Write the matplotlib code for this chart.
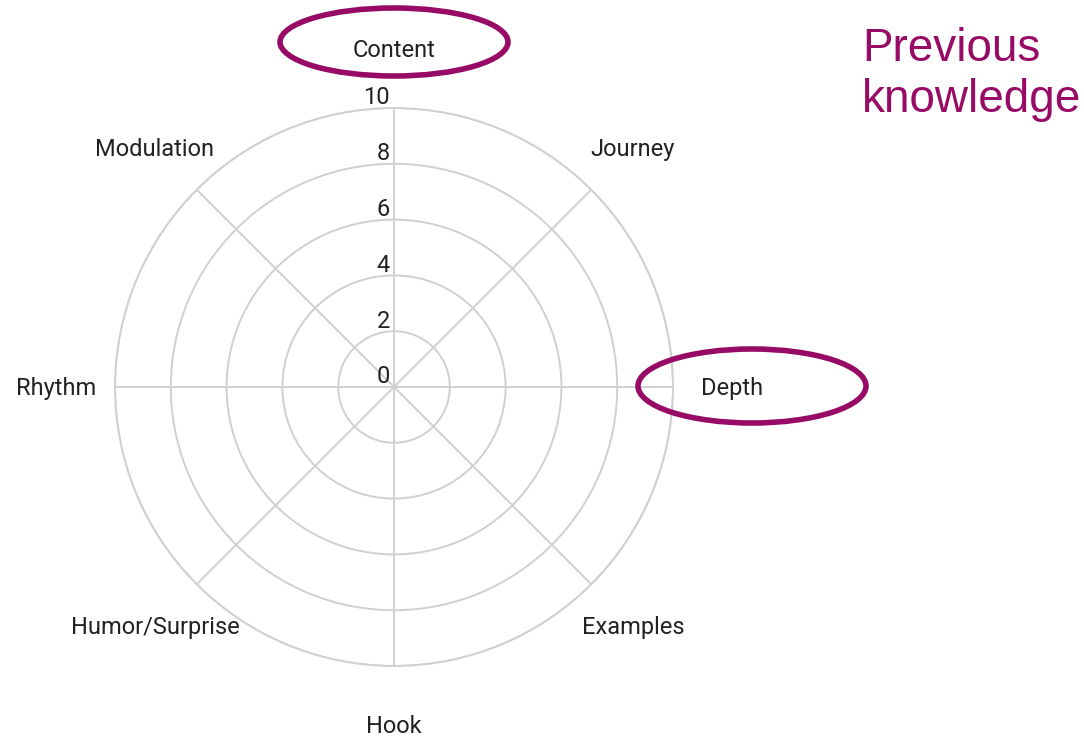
import numpy as np
import matplotlib
matplotlib.use("Agg")
import matplotlib.pyplot as plt
from matplotlib.patches import Ellipse

categories = ["Content", "Journey", "Depth", "Examples", "Hook",
              "Humor/Surprise", "Rhythm", "Modulation"]
r_ticks = [0, 2, 4, 6, 8, 10]
r_min, r_max = 0, 10
highlighted = ["Content", "Depth"]
note_text = "Previous\nknowledge"

W, H = 1084, 738
fig = plt.figure(figsize=(W / 100, H / 100), dpi=100)
fig.patch.set_facecolor("white")

grid_col = "#d0d0d0"
text_col = "#222222"
accent = "#970a65"

cx, cy, R = 394, 387, 279
ax = fig.add_axes([(cx - R) / W, (H - cy - R) / H, 2 * R / W, 2 * R / H], projection="polar")
ax.set_theta_zero_location("N")
ax.set_theta_direction(-1)
ax.set_ylim(r_min, r_max)
ax.set_facecolor("none")

n = len(categories)
angles = np.arange(n) * 2 * np.pi / n
ax.set_xticks(angles)
ax.set_xticklabels([])
ax.set_yticks(r_ticks)
ax.set_yticklabels([])
ax.grid(True, color=grid_col, linewidth=1.4)
ax.spines["polar"].set_color(grid_col)
ax.spines["polar"].set_linewidth(1.4)
ax.tick_params(length=0)

label_r = r_min + 338 / R * (r_max - r_min)
for ang, cat in zip(angles, categories):
    ax.annotate(cat, xy=(ang, label_r), xytext=(0, -1), textcoords="offset points",
                ha="center", va="center", fontsize=17,
                family=["Roboto", "DejaVu Sans"], color=text_col, annotation_clip=False)

for t in r_ticks:
    ax.annotate(str(t), xy=(0, t), xytext=(-3, -1), textcoords="offset points",
                ha="right", va="bottom", fontsize=17,
                family=["Roboto", "DejaVu Sans"], color=text_col, annotation_clip=False)

ov = fig.add_axes([0, 0, 1, 1])
ov.set_xlim(0, W)
ov.set_ylim(H, 0)
ov.axis("off")
ov.set_facecolor("none")

ell_geom = {"Content": (394, 42, 228, 68), "Depth": (752, 386, 228, 74)}
for cat in highlighted:
    x, y, w, h = ell_geom[cat]
    ov.add_patch(Ellipse((x, y), w, h, fill=False, edgecolor=accent, linewidth=4))

ov.text(862, 27, note_text, ha="left", va="top", fontsize=33,
        family=["Liberation Sans", "DejaVu Sans"], color=accent, linespacing=1.2)

fig.savefig("out.png", dpi=100)
